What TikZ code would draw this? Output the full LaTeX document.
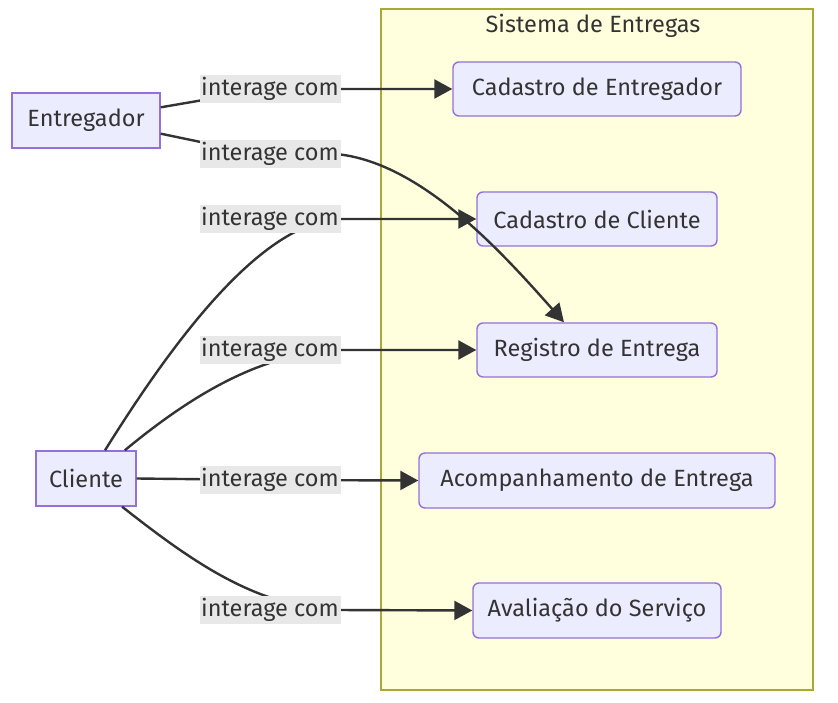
\documentclass[tikz,border=0pt]{standalone}
\usepackage{fontspec}
\setmainfont{Fira Sans}
\usetikzlibrary{arrows.meta}
\definecolor{nodefill}{HTML}{ECECFF}
\definecolor{nodeborder}{HTML}{9370DB}
\definecolor{txt}{HTML}{333333}
\definecolor{lblbg}{HTML}{E8E8E8}
\definecolor{clfill}{HTML}{FFFFDE}
\definecolor{clborder}{HTML}{AAAA33}
\newcommand{\lblfont}{\fontsize{23.5pt}{26pt}\selectfont}
\tikzset{
  actor/.style={draw=nodeborder, fill=nodefill, line width=1.4pt, text=txt, minimum height=55pt, inner sep=0pt, font=\lblfont},
  usecase/.style={actor, rounded corners=6pt},
  lbl/.style={fill=lblbg, text=txt, minimum width=141pt, minimum height=28pt, inner sep=0pt, font=\lblfont},
  edge/.style={draw=txt, line width=2.4pt},
  arr/.style={edge, -{Triangle[length=18pt,width=19pt]}}
}
\begin{document}
\begin{tikzpicture}[x=1pt,y=-1pt]
\useasboundingbox (0,0) rectangle (838,703);
% cluster
\node[draw=clborder, fill=clfill, line width=1.4pt, minimum width=432pt, minimum height=681pt, inner sep=0pt] (sys) at (597,349.5) {};
\node[text=txt, font=\lblfont] (systitle) at (593,26) {Sistema de Entregas};
% actors
\node[actor, minimum width=148pt] (ent) at (86,120.5) {Entregador};
\node[actor, minimum width=100pt] (cli) at (86,478.5) {Cliente};
% use cases
\node[usecase, minimum width=288pt, minimum height=54pt] (ce) at (597,89) {Cadastro de Entregador};
\node[usecase, minimum width=240pt, minimum height=54pt] (cc) at (597,219) {Cadastro de Cliente};
\node[usecase, minimum width=240pt, minimum height=54pt] (rg) at (597,350) {Registro de Entrega};
\node[usecase, minimum width=356pt] (ac) at (597,480.5) {Acompanhamento de Entrega};
\node[usecase, minimum width=248pt] (av) at (597,610.5) {Avaliação do Serviço};
% label positions
\coordinate (p1) at (270,89);
\coordinate (p2) at (270,154);
\coordinate (p3) at (270,219);
\coordinate (p4) at (270,350);
\coordinate (p5) at (270,480);
\coordinate (p6) at (270,610);
\coordinate (q2) at (336,154);
\coordinate (q3) at (336,219);
\coordinate (q4) at (336,350);
\coordinate (q6) at (336,610);
% edges
\draw[arr] (ent.10) -- (215,98) -- (p1) -- (ce.west);
\draw[arr] (ent.-10) -- (215,145) -- (p2) -- (q2) .. controls (420,162) and (500,250) .. (rg.140);
\draw[arr] (cli.56) .. controls (180,330) and (262,226) .. (q3) -- (cc.west);
\draw[arr] (cli.36) .. controls (200,388) and (266,354) .. (q4) -- (rg.west);
\draw[arr] (cli.east) -- (p5) -- (ac.west);
\draw[arr] (cli.-38) .. controls (190,560) and (255,607) .. (q6) -- (av.west);
% labels
\node[lbl] (l1) at (p1) {interage com};
\node[lbl] (l2) at (p2) {interage com};
\node[lbl] (l3) at (p3) {interage com};
\node[lbl] (l4) at (p4) {interage com};
\node[lbl] (l5) at (p5) {interage com};
\node[lbl] (l6) at (p6) {interage com};
\end{tikzpicture}
\end{document}
